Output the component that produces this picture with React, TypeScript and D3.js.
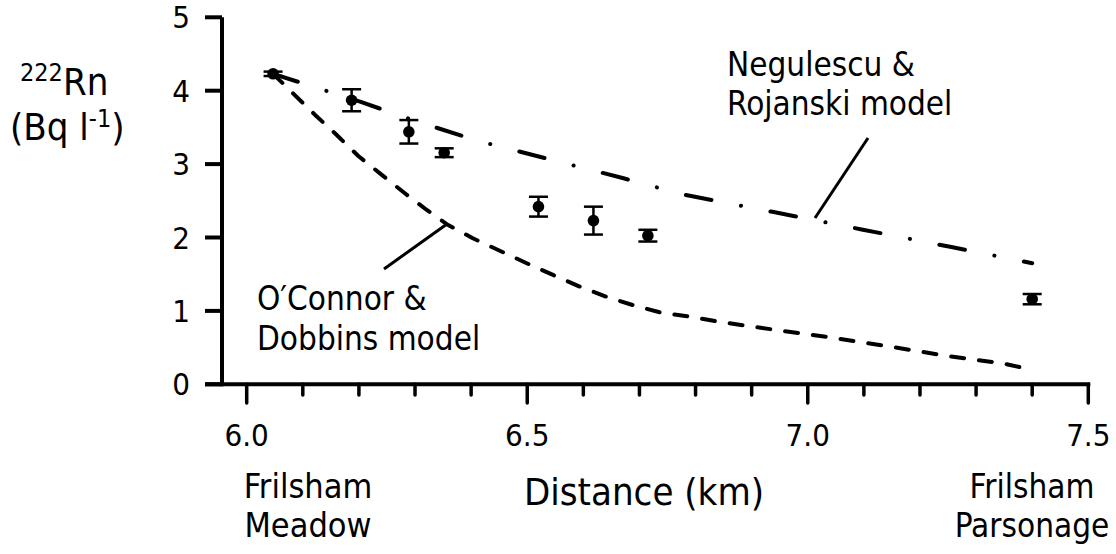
import React from "react";
import * as d3 from "d3";

const distances = [6.047, 6.187, 6.289, 6.352, 6.52, 6.618, 6.715, 7.40];
const radon = [4.23, 3.87, 3.44, 3.155, 2.42, 2.23, 2.025, 1.16];
const radonErr = [0.03, 0.15, 0.16, 0.06, 0.135, 0.19, 0.08, 0.07];

const negDist = [6.047, 6.10, 6.202, 6.308, 6.41, 6.67, 6.776, 6.937, 7.096, 7.256, 7.40];
const negVal = [4.23, 4.10, 3.85, 3.57, 3.32, 2.81, 2.59, 2.35, 2.11, 1.87, 1.65];

const ocdDist = [6.047, 6.083, 6.122, 6.16, 6.199, 6.238, 6.279, 6.321, 6.359, 6.403, 6.451, 6.499, 6.546, 6.594, 6.642, 6.692, 6.742, 6.793, 6.843, 6.944, 7.048, 7.149, 7.25, 7.351, 7.40];
const ocdVal = [4.23, 3.96, 3.67, 3.40, 3.11, 2.87, 2.62, 2.375, 2.17, 1.99, 1.82, 1.65, 1.49, 1.33, 1.19, 1.07, 0.97, 0.92, 0.85, 0.74, 0.63, 0.51, 0.385, 0.28, 0.195];

const xMajorTicks = [6.0, 6.5, 7.0, 7.5];
const xMinorTicks = [6.1, 6.2, 6.3, 6.4, 6.6, 6.7, 6.8, 6.9, 7.1, 7.2, 7.3, 7.4];
const yTicks = [0, 1, 2, 3, 4, 5];

const FONT = "'DejaVu Sans Condensed', 'DejaVu Sans', sans-serif";

export default function App() {
  const x = d3.scaleLinear().domain([6.0, 7.5]).range([246.7, 1088.3]);
  const y = d3.scaleLinear().domain([0, 5]).range([384.3, 17.3]);
  const yAxisX = 222;
  const mk = (xs: number[], ys: number[]) =>
    d3
      .line<number>()
      .x((d) => x(d))
      .y((_, i) => y(ys[i]))(xs) as string;

  return (
    <svg
      width={1116}
      height={554}
      style={{ position: "absolute", left: 0, top: 0, background: "#fff" }}
      fontFamily={FONT}
    >
      <rect width={1116} height={554} fill="#fff" />
      {/* axes */}
      <line x1={yAxisX} x2={yAxisX} y1={y(5)} y2={y(0) + 2} stroke="#000" strokeWidth={4} />
      <line x1={205} x2={x(7.5) + 2} y1={y(0)} y2={y(0)} stroke="#000" strokeWidth={4} />
      {yTicks.map((t) => (
        <g key={"yt" + t}>
          <line x1={205} x2={yAxisX} y1={y(t)} y2={y(t)} stroke="#000" strokeWidth={4} />
          <text x={190} y={y(t) + 11} textAnchor="end" fontSize={31}>
            {t}
          </text>
        </g>
      ))}
      {xMajorTicks.map((t) => (
        <g key={"xt" + t}>
          <line x1={x(t)} x2={x(t)} y1={y(0)} y2={403} stroke="#000" strokeWidth={3.5} strokeLinecap="round" />
          <text x={x(t)} y={446} textAnchor="middle" fontSize={31}>
            {t.toFixed(1)}
          </text>
        </g>
      ))}
      {xMinorTicks.map((t) => (
        <line key={"xm" + t} x1={x(t)} x2={x(t)} y1={y(0)} y2={395} stroke="#000" strokeWidth={3.5} strokeLinecap="round" />
      ))}

      {/* model lines */}
      <path
        d={mk(ocdDist, ocdVal)}
        fill="none"
        stroke="#000"
        strokeWidth={4}
        strokeDasharray="13 15"
        strokeLinecap="round"
        strokeLinejoin="round"
      />
      <path
        d={mk(negDist, negVal)}
        fill="none"
        stroke="#000"
        strokeWidth={4}
        strokeDasharray="26 30 0.1 30"
        strokeLinecap="round"
        strokeLinejoin="round"
      />

      {/* data with error bars */}
      {distances.map((d, i) => {
        const cx = x(d);
        const top = y(radon[i] + radonErr[i]);
        const bot = y(radon[i] - radonErr[i]);
        return (
          <g key={"p" + i}>
            <line x1={cx} x2={cx} y1={top} y2={bot} stroke="#000" strokeWidth={2.5} />
            <line x1={cx - 9.5} x2={cx + 9.5} y1={top} y2={top} stroke="#000" strokeWidth={2.5} />
            <line x1={cx - 9.5} x2={cx + 9.5} y1={bot} y2={bot} stroke="#000" strokeWidth={2.5} />
            <circle cx={cx} cy={y(radon[i])} r={5.8} fill="#000" />
          </g>
        );
      })}

      {/* annotation pointers */}
      <line x1={868} y1={138} x2={815} y2={218} stroke="#000" strokeWidth={3} />
      <line x1={384} y1={269} x2={447} y2={224} stroke="#000" strokeWidth={3} />

      {/* annotations */}
      <text x={727} y={76} fontSize={33}>Negulescu &amp;</text>
      <text x={727} y={115} fontSize={33}>Rojanski model</text>
      <text x={257} y={310} fontSize={33}>O′Connor &amp;</text>
      <text x={257} y={350} fontSize={33}>Dobbins model</text>

      {/* y label */}
      <text x={20} y={95} fontSize={38}>
        <tspan fontSize={25} dy={-14}>222</tspan>
        <tspan dy={14}>Rn</tspan>
      </text>
      <text x={10} y={140} fontSize={38}>
        (Bq l<tspan fontSize={25} dy={-13}>-1</tspan>
        <tspan dy={13}>)</tspan>
      </text>

      {/* x labels */}
      <text x={308} y={498} textAnchor="middle" fontSize={34}>Frilsham</text>
      <text x={308} y={537} textAnchor="middle" fontSize={34}>Meadow</text>
      <text x={644} y={505} textAnchor="middle" fontSize={38}>Distance (km)</text>
      <text x={1032} y={498} textAnchor="middle" fontSize={33}>Frilsham</text>
      <text x={1032} y={537} textAnchor="middle" fontSize={33}>Parsonage</text>
    </svg>
  );
}
